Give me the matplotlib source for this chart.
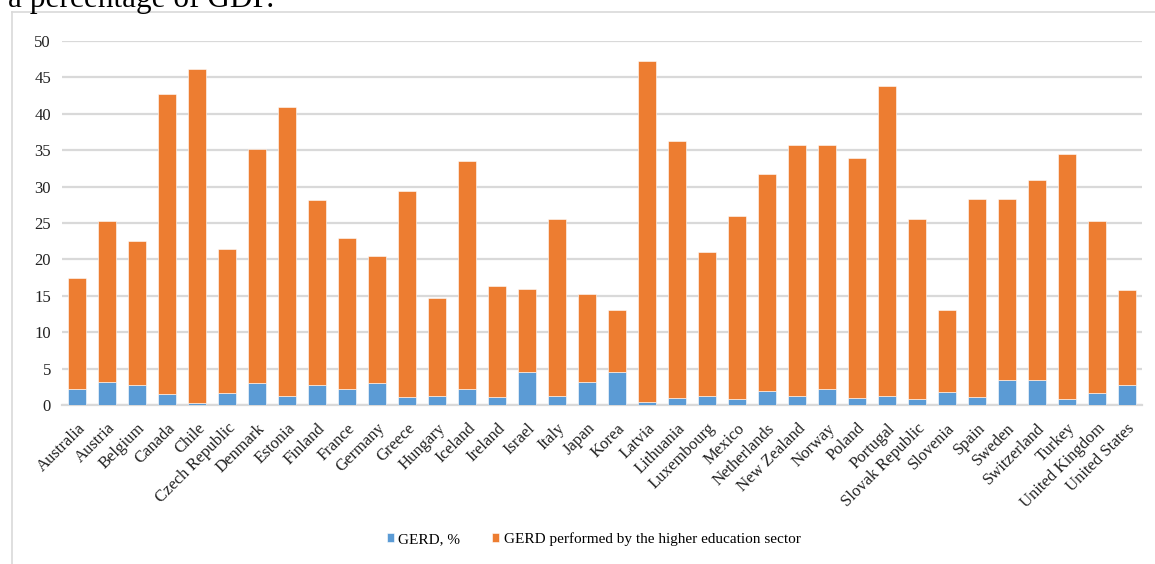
import numpy as np
import matplotlib.pyplot as plt
from matplotlib.lines import Line2D

plt.rcParams['font.family'] = ['Liberation Serif', 'DejaVu Serif']

countries = ['Australia', 'Austria', 'Belgium', 'Canada', 'Chile', 'Czech Republic',
             'Denmark', 'Estonia', 'Finland', 'France', 'Germany', 'Greece',
             'Hungary', 'Iceland', 'Ireland', 'Israel', 'Italy', 'Japan', 'Korea',
             'Latvia', 'Lithuania', 'Luxembourg', 'Mexico', 'Netherlands',
             'New Zealand', 'Norway', 'Poland', 'Portugal', 'Slovak Republic',
             'Slovenia', 'Spain', 'Sweden', 'Switzerland', 'Turkey',
             'United Kingdom', 'United States']

# GERD as % of GDP
gerd = [2.13, 3.15, 2.69, 1.53, 0.28, 1.71, 3.06, 1.25, 2.78, 2.22, 3.0, 1.11,
        1.30, 2.13, 1.06, 4.58, 1.30, 3.19, 4.58, 0.46, 0.93, 1.20, 0.83, 1.99,
        1.30, 2.13, 0.97, 1.25, 0.83, 1.85, 1.16, 3.38, 3.38, 0.88, 1.62, 2.78]

# top of each stacked bar
totals = [17.41, 25.31, 22.48, 42.70, 46.12, 21.38, 35.17, 40.92, 28.14, 22.89,
          20.42, 29.42, 14.67, 33.57, 16.41, 16.0, 25.58, 15.22, 13.08, 47.22,
          36.31, 20.97, 25.99, 31.79, 35.76, 35.76, 33.93, 43.84, 25.58, 13.08,
          28.32, 28.27, 30.92, 34.48, 25.31, 15.77]

higher_ed = [round(t - g, 2) for t, g in zip(totals, gerd)]

blue = '#5B9BD5'
orange = '#ED7D31'
grid_col = '#d9d9d9'

fig = plt.figure(figsize=(11.55, 5.64), dpi=100)
ax = fig.add_axes([62 / 1155, 1 - 405 / 564, 1080 / 1155, 364 / 564])

x = np.arange(len(countries))
w = 0.57
ax.bar(x, gerd, w, color=blue, edgecolor='white', linewidth=0.4, zorder=3,
       label='GERD, %')
ax.bar(x, higher_ed, w, bottom=gerd, color=orange, edgecolor='white',
       linewidth=0.4, zorder=3, label='GERD performed by the higher education sector')

ax.set_xlim(-0.5, len(countries) - 0.5)
ax.set_ylim(0, 50)
ax.set_yticks(range(0, 51, 5))
ax.yaxis.grid(True, color=grid_col, linewidth=1.6, zorder=0)
for s in ['top', 'right', 'left']:
    ax.spines[s].set_visible(False)
ax.spines['bottom'].set_color(grid_col)
ax.spines['bottom'].set_linewidth(1.6)
ax.tick_params(axis='both', length=0, labelsize=12, colors='#222222')
ax.tick_params(axis='y', pad=8)
ax.set_xticks(x)
ax.set_xticklabels(countries, rotation=45, ha='right', rotation_mode='anchor')
ax.tick_params(axis='x', pad=11)

handles, labels = ax.get_legend_handles_labels()
fig.legend(handles, labels, loc='center', bbox_to_anchor=(0.514, 1 - 539 / 564),
           ncol=2, frameon=False, fontsize=11, handlelength=0.45, handleheight=0.45,
           columnspacing=2.1, handletextpad=0.3)

# chart frame (only top and left edges fall inside the picture)
fig.add_artist(Line2D([11.5 / 1155, 1], [1 - 12 / 564, 1 - 12 / 564],
                      transform=fig.transFigure, color=grid_col, linewidth=1.2))
fig.add_artist(Line2D([11.5 / 1155, 11.5 / 1155], [0, 1 - 12 / 564],
                      transform=fig.transFigure, color=grid_col, linewidth=1.2))

# caption text from the page above, cut off by the crop
fig.text(8 / 1155, 1 - 6.5 / 564, 'a percentage of GDP.', fontsize=22.5,
         va='baseline', ha='left', color='black')

fig.savefig('out.png', dpi=100)
